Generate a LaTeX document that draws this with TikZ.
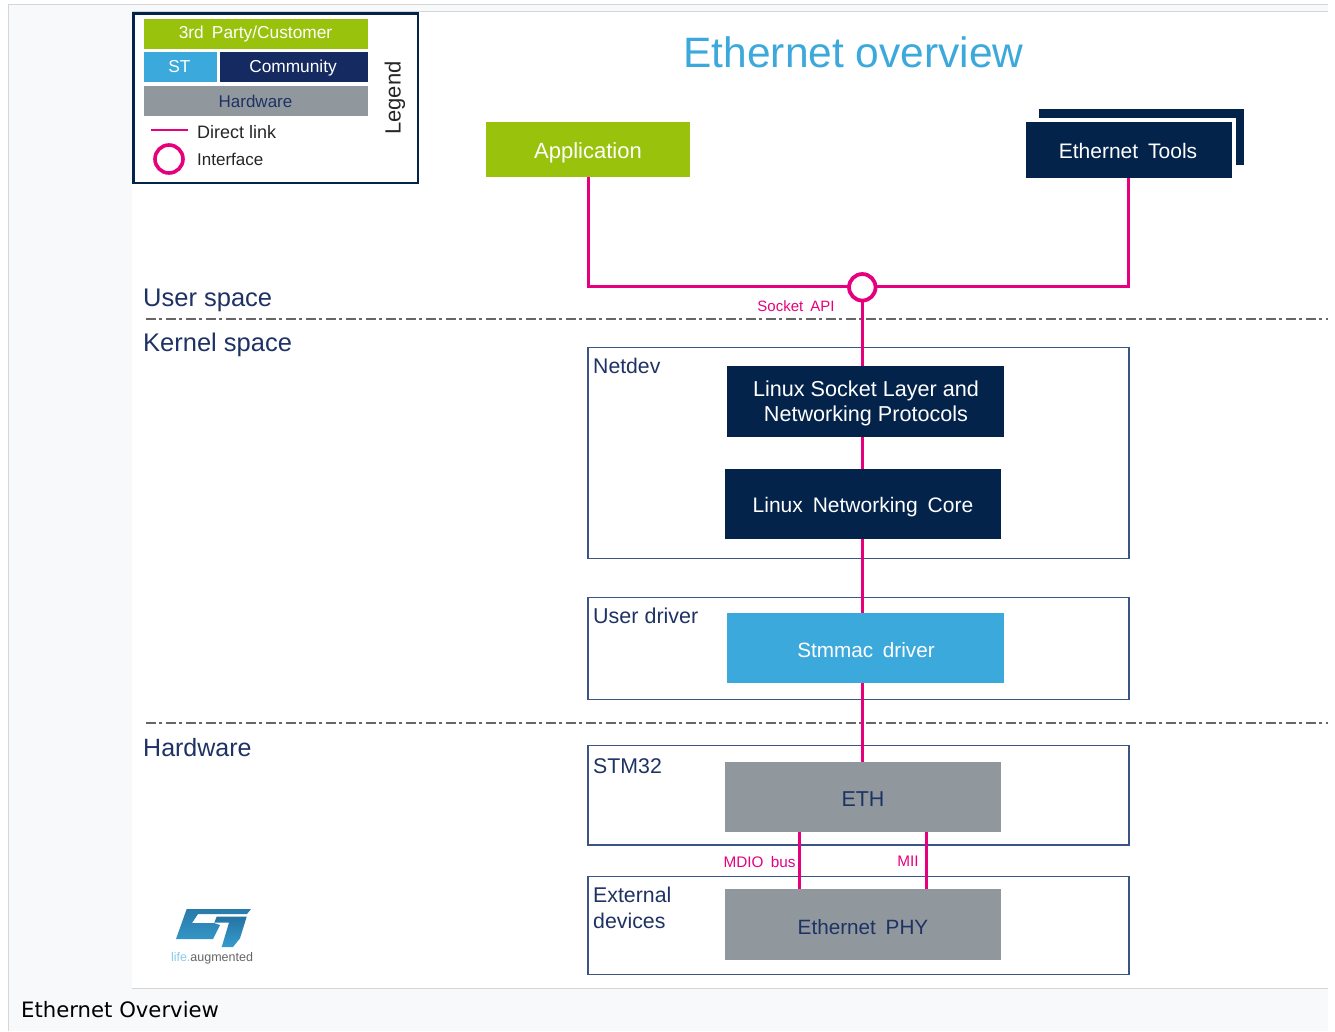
\documentclass[tikz,border=0pt]{standalone}
\usepackage{fontspec}
\setmainfont[WordSpace=1.7]{Liberation Sans}
\newfontfamily\plainfont{Liberation Sans}
\newfontfamily\dejavu{DejaVu Sans}
\definecolor{navy}{HTML}{03234B}
\definecolor{cnavy}{HTML}{142A60}
\definecolor{lime}{HTML}{99C20C}
\definecolor{stblue}{HTML}{3CA9DC}
\definecolor{hwgrey}{HTML}{90989E}
\definecolor{pink}{HTML}{E6007E}
\definecolor{txtblue}{HTML}{1E3264}
\definecolor{frame}{HTML}{3A5585}
\definecolor{page}{HTML}{F8F9FA}
\definecolor{rule}{HTML}{D4D6D8}
\tikzset{
 fs/.style={font=\fontsize{#1}{#1}\selectfont},
 block/.style={draw=none,inner sep=0pt,anchor=north west,align=center},
 group/.style={draw=frame,line width=1.4pt},
 link/.style={draw=pink,line width=3pt},
 sep/.style={draw=black!60,line width=1.4pt,dash pattern=on 10pt off 3pt on 3pt off 4pt},
 lab/.style={text=txtblue,inner sep=0pt,anchor=west},
 plab/.style={text=pink,inner sep=0pt},
 txt/.style={inner sep=0pt,align=center},
}
\begin{document}
\begin{tikzpicture}[x=1pt,y=-1pt]
\useasboundingbox (0,0) rectangle (1335,1031);
\fill[white] (0,0) rectangle (1335,1031);
\fill[page] (9,5) rectangle (1328,1031);
\fill[white] (132,12) rectangle (1328,988);
\draw[rule,line width=1pt] (8.5,1031) -- (8.5,4.5) -- (1328,4.5);
\draw[rule,line width=1pt] (132,11.5) -- (1328,11.5);
\draw[rule,line width=.7pt] (132,988.5) -- (1328,988.5);
\node[anchor=west,inner sep=0pt,fs=21.2] (caption) at (21,1010) {\dejavu Ethernet Overview};

% legend
\node[block,draw=navy,line width=2.6pt,minimum width=284.5pt,minimum height=169.5pt] (legend) at (132,12) {};
\node[block,fill=lime,minimum width=224pt,minimum height=30pt] (l3rd) at (144,18.7) {};
\node[txt,text=white,fs=17.3] (l3rdt) at (255.5,34.5) {3rd Party/Customer};
\node[block,fill=stblue,minimum width=73pt,minimum height=30pt] (lst) at (144,52) {};
\node[txt,text=white,fs=17.3] (lstt) at (179.5,67) {ST};
\node[block,fill=cnavy,minimum width=148pt,minimum height=30pt] (lcom) at (220,52) {};
\node[txt,text=white,fs=17.3] (lcomt) at (293,68.5) {Community};
\node[block,fill=hwgrey,minimum width=224pt,minimum height=30pt] (lhw) at (144,86) {};
\node[txt,text=txtblue,fs=17] (lhwt) at (255.5,101) {Hardware};
\coordinate (dl1) at (151,130);
\coordinate (dl2) at (188,130);
\draw[link,line width=2.6pt] (dl1) -- (dl2);
\node[text=black!85,fs=18,inner sep=0pt,anchor=west] (ldl) at (197,132) {\plainfont Direct link};
\node[draw=pink,line width=3.6pt,circle,minimum size=28pt,inner sep=0pt] (lif) at (169,159) {};
\node[text=black!85,fs=17,inner sep=0pt,anchor=west] (lift) at (197,159) {Interface};
\node[text=black!85,fs=22,inner sep=0pt,rotate=90] (lleg) at (395,98) {Legend};

% title
\node[text=stblue,fs=42.5,inner sep=0pt] (title) at (853.5,52) {\plainfont Ethernet overview};

% top blocks
\node[block,fill=lime,minimum width=204pt,minimum height=55pt] (app) at (486,122) {};
\node[txt,text=white,fs=22] (appt) at (588,153) {Application};
\fill[navy] (1039,109) rectangle (1244,165);
\fill[white] (1039,118) rectangle (1236,165);
\node[block,fill=navy,minimum width=206pt,minimum height=55.5pt] (tools) at (1025.5,122) {};
\node[txt,text=white,fs=21] (toolst) at (1128,151) {Ethernet Tools};

% separators
\coordinate (s1a) at (146,319); \coordinate (s1b) at (1328,319);
\coordinate (s2a) at (146,723); \coordinate (s2b) at (1328,723);
\draw[sep] (s1a) -- (s1b);
\draw[sep] (s2a) -- (s2b);
\node[lab,fs=25.5] (us) at (143,300) {\plainfont User space};
\node[lab,fs=25.5] (ks) at (143,345) {\plainfont Kernel space};
\node[lab,fs=25] (hw) at (143,748) {Hardware};

% groups
\node[block,group,minimum width=541pt,minimum height=211pt] (netdev) at (587.3,347) {};
\node[block,group,minimum width=541pt,minimum height=102.5pt] (udrv) at (587.3,596.5) {};
\node[block,group,minimum width=541pt,minimum height=99.3pt] (stm) at (587.3,745) {};
\node[block,group,minimum width=541pt,minimum height=98pt] (ext) at (587.3,875.5) {};
\node[lab,fs=21.2] (netdevl) at (593,366) {Netdev};
\node[lab,fs=21.5] (udrvl) at (593,615.5) {\plainfont User driver};
\node[lab,fs=21.3] (stml) at (593,766) {STM32};
\node[lab,fs=21.3,align=left,anchor=north west] (extl) at (593,887) {External\\[4.7pt]devices};

% connectors
\coordinate (ifc) at (862,286.5);
\draw[link] (app.south) |- (ifc);
\draw[link] (tools.south) |- (ifc);
\coordinate (sock) at (862,366);
\draw[link] (ifc) -- (sock);
\coordinate (c1) at (862.7,436); \coordinate (c2) at (862.7,762);
\draw[link] (c1) -- (c2);
\coordinate (m1) at (799.3,832); \coordinate (m2) at (799.3,889);
\coordinate (m3) at (926.8,832); \coordinate (m4) at (926.8,889);
\draw[link] (m1) -- (m2);
\draw[link] (m3) -- (m4);
\node[draw=pink,line width=3.8pt,circle,fill=white,minimum size=26.5pt,inner sep=0pt] (if) at (862.3,287.3) {};
\node[plab,fs=15] (sockl) at (796,306) {Socket API};
\node[plab,fs=15.3] (mdio) at (759.5,862) {MDIO bus};
\node[plab,fs=15.3] (mii) at (908,861) {MII};

% inner blocks
\node[block,fill=navy,minimum width=277pt,minimum height=71pt] (sockb) at (727,365.7) {};
\node[txt,text=white,fs=21.6] (sockt) at (866,403.5) {\plainfont Linux Socket Layer and\\[3.4pt]\plainfont Networking Protocols};
\node[block,fill=navy,minimum width=276.5pt,minimum height=70.5pt] (core) at (724.3,468.7) {};
\node[txt,text=white,fs=21] (coret) at (863,507.5) {Linux Networking Core};
\node[block,fill=stblue,minimum width=276.5pt,minimum height=70.5pt] (stm2) at (727,612.3) {};
\node[txt,text=white,fs=20.7] (stmt) at (866,650) {Stmmac driver};
\node[block,fill=hwgrey,minimum width=276.5pt,minimum height=70.5pt] (eth) at (724.3,761.3) {};
\node[txt,text=txtblue,fs=21.5] (etht) at (863,799) {ETH};
\node[block,fill=hwgrey,minimum width=276.5pt,minimum height=70.5pt] (phy) at (724.3,889) {};
\node[txt,text=txtblue,fs=20.7] (phyt) at (863,927) {Ethernet PHY};

% ST logo
\shade[top color=stblue!65!navy,bottom color=stblue!85!navy]
 (186.7,909) -- (251,909) -- (247,914) -- (198,914) -- (192,923) -- (214,923) -- (220,925) -- (213,939) -- (176,939) -- cycle;
\shade[top color=stblue!60!navy,bottom color=stblue!90!navy]
 (216.7,916.7) -- (246.7,916.7) -- (240,938.3) -- (233,947) -- (221.7,947) -- (229,922.7) -- (214.3,922.7) -- cycle;
\node[text=black!60,fs=12.5,inner sep=0pt] (logot) at (212,958) {\textcolor{stblue!60}{life.}augmented};
\end{tikzpicture}
\end{document}
